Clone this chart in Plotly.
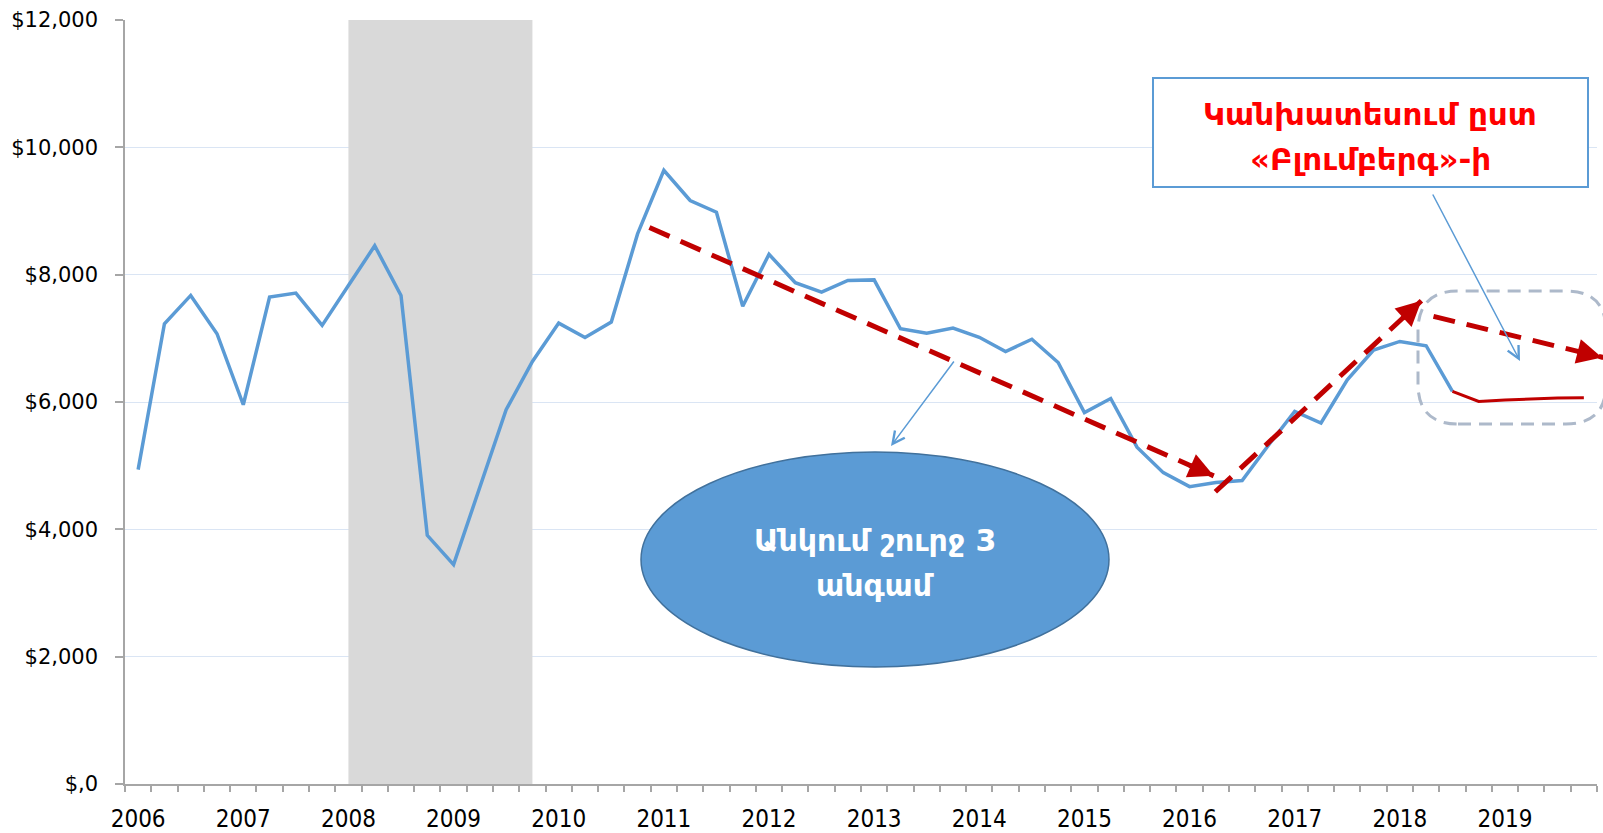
import math
import plotly.graph_objects as go

# ---------------- data ----------------
years = [str(y) for y in range(2006, 2020)]
quarters = [f"{y} Q{q}" for y in range(2006, 2020) for q in range(1, 5)]
actual_values = [4937, 7229, 7674, 7072, 5957, 7648, 7711, 7203, 7830, 8454,
                 7674, 3906, 3446, 4678, 5879, 6637, 7239, 7014, 7255, 8640,
                 9640, 9165, 8980, 7505, 8320, 7875, 7725, 7910, 7918, 7150,
                 7080, 7160, 7017, 6793, 6986, 6620, 5835, 6055, 5290, 4890,
                 4671, 4735, 4767, 5320, 5853, 5670, 6350, 6815, 6951, 6884,
                 6167]
forecast_values = [6167, 6009, 6030, 6050, 6062, 6068]
recession_start = "2008 Q1"
recession_end = "2009 Q4"
y_tick_values = [0, 2000, 4000, 6000, 8000, 10000, 12000]
y_tick_labels = ["$,0", "$2,000", "$4,000", "$6,000", "$8,000", "$10,000", "$12,000"]
box_lines = ["Կանխատեսում ըստ", "«Բլումբերգ»-ի"]
ellipse_lines = ["Անկում շուրջ 3", "անգամ"]

# ---------------- geometry ----------------
W, H = 1603, 833
ML, MR, MT, MB = 125, 6, 20, 49
PW, PH = W - ML - MR, H - MT - MB
N = len(quarters)
XMIN, XMAX = -0.5, N - 0.5
YMIN, YMAX = 0, 12000


def d2p(i, v):
    """data (quarter index, value) -> paper"""
    return (i - XMIN) / (XMAX - XMIN), (v - YMIN) / (YMAX - YMIN)


def px2p(X, Y):
    """pixel -> paper"""
    return (X - ML) / PW, (MT + PH - Y) / PH


x_actual = list(range(len(actual_values)))
x_forecast = list(range(len(actual_values) - 1, len(actual_values) - 1 + len(forecast_values)))

BLUE = "#5B9BD5"
DARKRED = "#C00000"

fig = go.Figure()
fig.add_trace(go.Scatter(x=x_actual, y=actual_values, mode="lines",
                         line=dict(color=BLUE, width=3.5), hoverinfo="skip",
                         showlegend=False))
fig.add_trace(go.Scatter(x=x_forecast, y=forecast_values, mode="lines",
                         line=dict(color=DARKRED, width=3), hoverinfo="skip",
                         showlegend=False))

shapes = []
# recession shading
shapes.append(dict(type="rect", xref="x", yref="y",
                   x0=quarters.index(recession_start), x1=quarters.index(recession_end),
                   y0=YMIN, y1=YMAX, fillcolor="#D9D9D9", line=dict(width=0),
                   layer="between"))

# trend arrows (annotation geometry, data units)
trend_arrows = [((19.45, 8740), (40.92, 4840)),
                ((40.98, 4590), (48.82, 7590)),
                ((49.28, 7344), (55.74, 6699))]
annotations = []
for (a, b) in trend_arrows:
    p0 = d2p(*a)
    p1 = d2p(*b)
    shapes.append(dict(type="line", xref="paper", yref="paper",
                       x0=p0[0], y0=p0[1], x1=p1[0], y1=p1[1],
                       line=dict(color=DARKRED, width=5, dash="22px,12px"),
                       layer="above"))
    dxp = (p0[0] - p1[0]) * PW
    dyp = -(p0[1] - p1[1]) * PH
    L = math.hypot(dxp, dyp)
    annotations.append(dict(xref="paper", yref="paper", x=p1[0], y=p1[1],
                            ax=dxp / L * 28, ay=dyp / L * 28, text="",
                            showarrow=True, arrowhead=2, arrowsize=1.0,
                            arrowwidth=5, arrowcolor=DARKRED))

# dashed rounded rectangle around forecast
X0, Y0, X1, Y1, R = 1418, 291, 1606, 424, 40
a0 = px2p(X0, Y1)
a1 = px2p(X1, Y0)
rx, ry = R / PW, R / PH
x0, y0, x1, y1 = a0[0], a0[1], a1[0], a1[1]
path = (f"M{x0+rx},{y0} L{x1-rx},{y0} Q{x1},{y0} {x1},{y0+ry} "
        f"L{x1},{y1-ry} Q{x1},{y1} {x1-rx},{y1} L{x0+rx},{y1} "
        f"Q{x0},{y1} {x0},{y1-ry} L{x0},{y0+ry} Q{x0},{y0} {x0+rx},{y0} Z")
shapes.append(dict(type="path", xref="paper", yref="paper", path=path,
                   line=dict(color="#ADB9CA", width=3, dash="13px,8px"),
                   layer="above"))

# text box
b0 = px2p(1153, 187)
b1 = px2p(1588, 78)
shapes.append(dict(type="rect", xref="paper", yref="paper",
                   x0=b0[0], y0=b0[1], x1=b1[0], y1=b1[1],
                   fillcolor="white", line=dict(color=BLUE, width=2), layer="above"))
# ellipse
e0 = px2p(641, 667)
e1 = px2p(1109, 452)
shapes.append(dict(type="circle", xref="paper", yref="paper",
                   x0=e0[0], y0=e0[1], x1=e1[0], y1=e1[1],
                   fillcolor=BLUE, line=dict(color="#41719C", width=1.5), layer="above"))

for txt, (cx, cy) in zip(box_lines, [(1370, 114), (1370, 159)]):
    p = px2p(cx, cy)
    annotations.append(dict(xref="paper", yref="paper", x=p[0], y=p[1],
                            text=txt, showarrow=False, xanchor="center", yanchor="middle",
                            font=dict(family="DejaVu Sans", size=31, color="#FF0000",
                                      weight="bold")))
for txt, (cx, cy) in zip(ellipse_lines, [(875, 540), (875, 585)]):
    p = px2p(cx, cy)
    annotations.append(dict(xref="paper", yref="paper", x=p[0], y=p[1],
                            text=txt, showarrow=False, xanchor="center", yanchor="middle",
                            font=dict(family="DejaVu Sans", size=30, color="white",
                                      weight="bold")))

# thin callout arrows
for tail, tip in [((1432, 193), (1520, 361)), ((955, 360), (891, 446))]:
    tp = px2p(*tip)
    annotations.append(dict(xref="paper", yref="paper", x=tp[0], y=tp[1],
                            ax=tail[0] - tip[0], ay=tail[1] - tip[1], text="",
                            showarrow=True, arrowhead=5, arrowsize=1.6,
                            arrowwidth=1.5, arrowcolor=BLUE))

fig.update_layout(
    width=W, height=H,
    margin=dict(l=ML, r=MR, t=MT, b=MB, pad=0, autoexpand=False),
    paper_bgcolor="white", plot_bgcolor="white",
    shapes=shapes, annotations=annotations,
    showlegend=False,
    xaxis=dict(range=[XMIN, XMAX], tickmode="array", automargin=False,
               tickvals=[quarters.index(f"{y} Q1") for y in years], ticktext=years,
               ticks="", showgrid=False, zeroline=False,
               showline=True, linecolor="#A6A6A6", linewidth=1.5,
               tickfont=dict(family="DejaVu Sans Condensed, sans-serif",
                             size=24, color="black"),
               ticklabelstandoff=12,
               minor=dict(tick0=-0.5, dtick=1, ticks="outside", ticklen=6,
                          tickcolor="#A6A6A6", tickwidth=1.5, showgrid=False)),
    yaxis=dict(range=[YMIN, YMAX], tickmode="array", tickvals=y_tick_values,
               automargin=False,
               ticktext=y_tick_labels, ticks="outside", ticklen=8,
               tickcolor="#A6A6A6", tickwidth=1.5,
               showgrid=True, gridcolor="#DAE5F4", gridwidth=1, zeroline=False,
               showline=True, linecolor="#A6A6A6", linewidth=1.5,
               tickfont=dict(family="DejaVu Sans", size=21, color="black"),
               ticklabelstandoff=13),
)

fig.write_html("out.html", config={"displayModeBar": False},
               post_script="document.body.style.margin='0';")
